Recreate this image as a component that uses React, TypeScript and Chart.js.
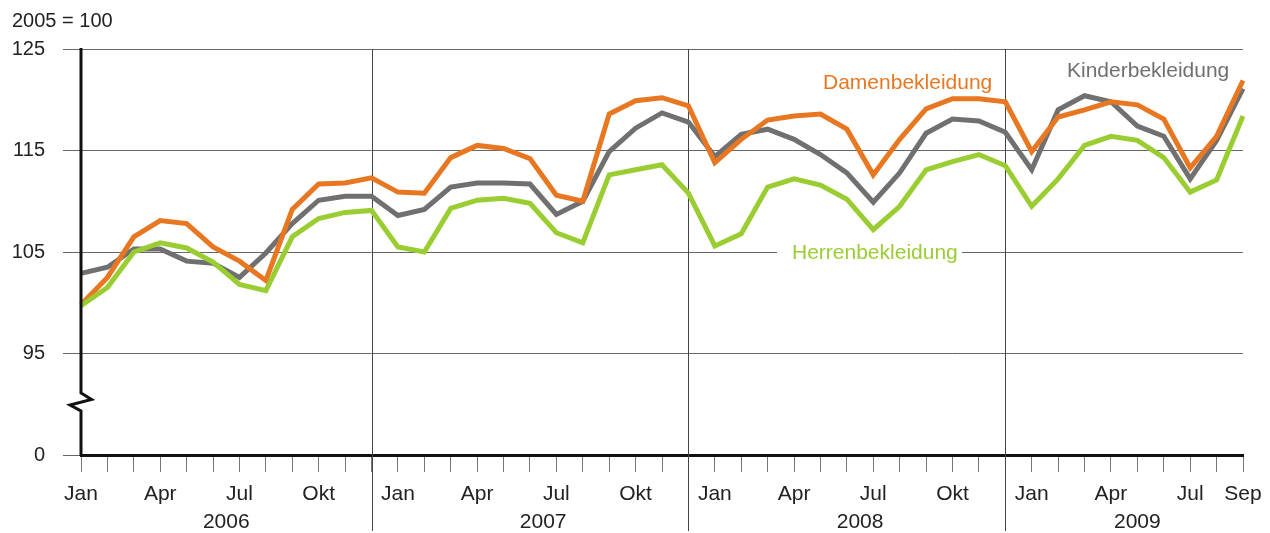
import React, { useEffect, useRef } from "react";
import { Chart, registerables } from "chart.js";

Chart.register(...registerables);

const monthNames = ["Jan", "Feb", "Mär", "Apr", "Mai", "Jun", "Jul", "Aug", "Sep", "Okt", "Nov", "Dez"];
const years = ["2006", "2007", "2008", "2009"];
const monthsCount = 45;
const categories: string[] = Array.from({ length: monthsCount }, (_, i) => monthNames[i % 12]);
const tickLabelIdx = (i: number) => i % 3 === 0 || i === monthsCount - 1;

const herren = [
  99.7, 101.5, 105.0, 105.9, 105.4, 104.0, 101.8, 101.2, 106.5, 108.3, 108.9, 109.1,
  105.5, 105.0, 109.3, 110.1, 110.3, 109.8, 106.9, 105.9, 112.6, 113.1, 113.6, 110.8,
  105.6, 106.8, 111.4, 112.2, 111.6, 110.2, 107.2, 109.5, 113.1, 113.9, 114.6, 113.5,
  109.5, 112.2, 115.5, 116.4, 116.0, 114.3, 110.9, 112.1, 118.4,
];
const damen = [
  99.8, 102.5, 106.5, 108.1, 107.8, 105.5, 104.1, 102.2, 109.2, 111.7, 111.8, 112.3,
  110.9, 110.8, 114.3, 115.5, 115.2, 114.2, 110.6, 110.0, 118.6, 119.9, 120.2, 119.4,
  113.8, 116.1, 118.0, 118.4, 118.6, 117.1, 112.6, 116.1, 119.1, 120.1, 120.1, 119.8,
  114.9, 118.3, 119.0, 119.8, 119.5, 118.1, 113.3, 116.4, 121.9,
];
const kinder = [
  102.9, 103.5, 105.3, 105.3, 104.1, 103.9, 102.5, 104.9, 107.8, 110.1, 110.5, 110.5,
  108.6, 109.2, 111.4, 111.8, 111.8, 111.7, 108.7, 110.0, 114.9, 117.2, 118.7, 117.8,
  114.4, 116.6, 117.1, 116.1, 114.6, 112.8, 109.9, 112.8, 116.7, 118.1, 117.9, 116.8,
  113.1, 119.0, 120.4, 119.8, 117.4, 116.4, 112.2, 116.0, 121.1,
];
const yTicks = [85, 95, 105, 115, 125];
const yTickLabels = ["0", "95", "105", "115", "125"];

const ORANGE = "#E87722";
const GRAY = "#707070";
const GREEN = "#9ACD32";
const FONT = "'Liberation Sans', Arial, sans-serif";

const overlay = {
  id: "overlay",
  beforeDatasetsDraw(chart: any) {
    const { ctx, chartArea, scales } = chart;
    const x = scales.x;
    ctx.save();
    ctx.strokeStyle = "#444";
    ctx.lineWidth = 1;
    for (let i = 11; i < monthsCount; i += 12) {
      const px = Math.round(x.getPixelForValue(i)) + 0.5;
      ctx.beginPath();
      ctx.moveTo(px, chartArea.top);
      ctx.lineTo(px, 531);
      ctx.stroke();
    }
    ctx.fillStyle = "#fff";
    ctx.fillRect(777, 243, 185, 20);
    ctx.restore();
  },
  afterDatasetsDraw(chart: any) {
    const { ctx, chartArea, scales } = chart;
    const x = scales.x;
    ctx.save();
    const ax = chartArea.left;
    ctx.strokeStyle = "#111";
    ctx.lineWidth = 3;
    ctx.lineJoin = "miter";
    ctx.beginPath();
    ctx.moveTo(ax, chartArea.top - 1);
    ctx.lineTo(ax, 393);
    ctx.lineTo(ax + 10.5, 399.5);
    ctx.lineTo(ax - 11, 405);
    ctx.lineTo(ax, 411);
    ctx.lineTo(ax, chartArea.bottom + 1);
    ctx.stroke();

    ctx.textBaseline = "alphabetic";
    ctx.font = `21px ${FONT}`;
    ctx.fillStyle = "#222";
    ctx.textAlign = "center";
    years.forEach((yr, k) => {
      const a = k * 12;
      const b = Math.min(k * 12 + 11, monthsCount - 1);
      const cx = (x.getPixelForValue(a) + x.getPixelForValue(b)) / 2;
      ctx.fillText(yr, cx, 528);
    });

    ctx.textAlign = "left";
    ctx.font = `20px ${FONT}`;
    ctx.fillText("2005 = 100", 12, 26.5);

    ctx.font = `21px ${FONT}`;
    ctx.fillStyle = ORANGE;
    ctx.fillText("Damenbekleidung", 823, 89);
    ctx.fillStyle = GRAY;
    ctx.fillText("Kinderbekleidung", 1067, 76.5);
    ctx.fillStyle = GREEN;
    ctx.fillText("Herrenbekleidung", 792, 259);
    ctx.restore();
  },
};

export default function App() {
  const ref = useRef<HTMLCanvasElement | null>(null);
  useEffect(() => {
    if (!ref.current) return;
    const chart = new Chart(ref.current, {
      type: "line",
      data: {
        labels: categories,
        datasets: [
          { label: "Herrenbekleidung", data: herren, borderColor: GREEN, borderWidth: 5, pointRadius: 0, tension: 0 },
          { label: "Damenbekleidung", data: damen, borderColor: ORANGE, borderWidth: 5, pointRadius: 0, tension: 0 },
          { label: "Kinderbekleidung", data: kinder, borderColor: GRAY, borderWidth: 5, pointRadius: 0, tension: 0 },
        ],
      },
      options: {
        animation: false,
        responsive: true,
        maintainAspectRatio: false,
        layout: { padding: { top: 49, right: 27, left: 0, bottom: 0 } },
        plugins: { legend: { display: false }, tooltip: { enabled: false } },
        elements: { line: { borderJoinStyle: "miter" as any, borderCapStyle: "butt" as any } },
        scales: {
          x: {
            type: "category",
            offset: false,
            grid: { drawOnChartArea: false, drawTicks: true, tickLength: 17, color: "#777", lineWidth: 1 },
            border: { display: true, color: "#111", width: 3 },
            ticks: {
              autoSkip: false,
              maxRotation: 0,
              minRotation: 0,
              padding: 10,
              color: "#222",
              font: { family: FONT, size: 21 },
              callback: (_v: any, i: number) => (tickLabelIdx(i) ? categories[i] : ""),
            },
            afterFit: (s: any) => {
              s.height = 78;
              s.paddingLeft = 0;
              s.paddingRight = 0;
            },
          },
          y: {
            type: "linear",
            min: 85,
            max: 125,
            afterBuildTicks: (s: any) => {
              s.ticks = yTicks.map((v) => ({ value: v }));
            },
            grid: { color: "#666", lineWidth: 1, drawTicks: true, tickLength: 18 },
            border: { display: false },
            ticks: {
              padding: 18,
              color: "#222",
              font: { family: FONT, size: 20 },
              callback: (v: any) => yTickLabels[yTicks.indexOf(Number(v))] ?? "",
            },
            afterFit: (s: any) => {
              s.width = 81;
              s.paddingTop = 0;
              s.paddingBottom = 0;
            },
          },
        },
      },
      plugins: [overlay],
    });
    return () => chart.destroy();
  }, []);
  return (
    <div style={{ position: "fixed", left: 0, top: 0, width: 1270, height: 533, background: "#fff" }}>
      <canvas ref={ref} />
    </div>
  );
}
